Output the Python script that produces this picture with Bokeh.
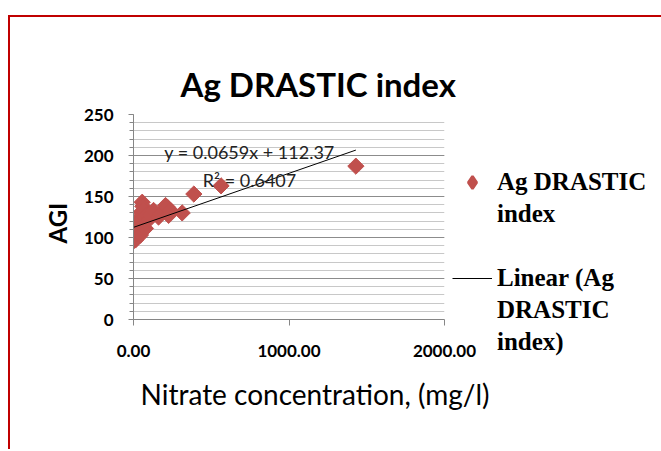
import numpy as np
from bokeh.plotting import figure
from bokeh.models import (Range1d, FixedTicker, NumeralTickFormatter, Label, Legend,
                          LegendItem, ColumnDataSource, Title)
from bokeh.embed import file_html
from bokeh.resources import INLINE

# ---- data ----
nitrate = [2, 5, 13, 20, 24, 30, 40, 45, 50, 56, 60, 64, 70, 77, 85, 100, 109,
           129, 161, 174, 206, 217, 226, 238, 313, 388, 563, 1430]
agi = [96, 100, 97, 121, 105, 118, 110, 103, 131, 143, 138, 133, 125, 111, 128,
       122, 127, 133, 125, 129, 139, 137, 127, 133, 130, 153, 163, 187]
slope = 0.0659
intercept = 112.37
r_squared = 0.6407
x_ticks = [0, 1000, 2000]
y_ticks = [0, 50, 100, 150, 200, 250]
y_minor_ticks = list(range(0, 251, 10))
title_text = "Ag DRASTIC index"
x_title = "Nitrate concentration, (mg/l)"
y_title = "AGI"
legend_lines = ["Ag DRASTIC", "index", " ", "Linear (Ag", "DRASTIC", "index)"]

FL, FT, FW, FH = 133, 114, 311, 205
RB, BB = 215, 130

p = figure(frame_width=FW, frame_height=FH, output_backend="svg", toolbar_location=None,
           x_range=Range1d(0, 2000), y_range=Range1d(0, 250),
           min_border_left=FL, min_border_right=RB,
           min_border_top=FT, min_border_bottom=BB,
           background_fill_color="white", border_fill_alpha=0)
p.outline_line_color = None
# red chart-area border (top and left edges visible)
p.styles = {
    "background": "linear-gradient(#c00000, #c00000) 8px 15px / calc(100% - 8px) 2px no-repeat, "
                  "linear-gradient(#c00000, #c00000) 8px 15px / 2px calc(100% - 15px) no-repeat, "
                  "white"
}

# title
p.title.text = title_text
p.title.align = "left"
p.title.offset = 47
p.title.standoff = 22
p.title.text_font = "Lato"
p.title.text_font_style = "bold"
p.title.text_font_size = "33px"
p.title.text_color = "black"

# grid
p.xgrid.grid_line_color = None
p.ygrid.ticker = FixedTicker(ticks=y_ticks, minor_ticks=y_minor_ticks)
p.ygrid.grid_line_color = "#8c8c8c"
p.ygrid.minor_grid_line_color = "#c8c8c8"

# axes
p.xaxis.ticker = FixedTicker(ticks=x_ticks, minor_ticks=[])
p.yaxis.ticker = FixedTicker(ticks=y_ticks, minor_ticks=y_minor_ticks)
p.xaxis.formatter = NumeralTickFormatter(format="0.00")
for ax in (p.xaxis, p.yaxis):
    ax.axis_line_color = "#868686"
    ax.major_tick_line_color = "#868686"
    ax.minor_tick_line_color = "#868686"
    ax.major_tick_in = 0
    ax.minor_tick_in = 0
    ax.major_label_text_font = "Lato"
    ax.major_label_text_font_style = "bold"
    ax.major_label_text_font_size = "17px"
    ax.major_label_text_color = "black"
p.xaxis.major_tick_out = 6
p.xaxis.minor_tick_out = 0
p.yaxis.major_tick_out = 5
p.yaxis.minor_tick_out = 4
p.yaxis.major_label_standoff = 15
p.xaxis.major_label_standoff = 19

# axis titles as side-panel titles (they sit off-centre in the reference)
p.add_layout(Title(text=x_title, align="left", offset=7, standoff=30,
                   text_font="Lato", text_font_style="normal", text_font_size="28px",
                   text_color="black"), "below")
p.add_layout(Title(text=y_title, align="left", offset=76, standoff=18,
                   text_font="Lato", text_font_style="bold", text_font_size="24px",
                   text_color="black"), "left")

# data
src = ColumnDataSource(dict(x=nitrate, y=agi))
r_pts = p.scatter("x", "y", source=src, marker="square", angle=np.pi / 4, size=11.5,
                  fill_color="#c0504d", line_color="#c0504d")
x_fit = [min(nitrate), max(nitrate)]
y_fit = [slope * v + intercept for v in x_fit]
r_line = p.line(x_fit, y_fit, line_color="black", line_width=1)
# legend swatch for the points (legend glyphs are drawn unrotated): same data, hidden
r_key = p.scatter("x", "y", source=src, marker="diamond", size=12, fill_color="#c0504d",
                  line_color="#c0504d", line_width=2.5, visible=False)

# trendline equation
p.add_layout(Label(x=116, y=168, x_units="screen", y_units="screen",
                   text=f"y = {slope}x + {intercept}", text_align="center",
                   text_baseline="middle", text_font="Lato", text_font_size="18px",
                   text_color="#222222"))
p.add_layout(Label(x=116, y=140, x_units="screen", y_units="screen",
                   text=f"R² = {r_squared}", text_align="center",
                   text_baseline="middle", text_font="Lato", text_font_size="18px",
                   text_color="#222222"))

# legend (one item per text line, glyphs on the first line of each entry)
glyph_for = {0: [r_key], 3: [r_line]}
items = [LegendItem(label=t, renderers=glyph_for.get(i, [])) for i, t in enumerate(legend_lines)]
legend = Legend(items=items, location="top_left", orientation="vertical", padding=0, margin=8,
                spacing=0, glyph_width=40, glyph_height=32, label_height=32, label_standoff=5,
                label_text_font="Liberation Serif", label_text_font_style="bold",
                label_text_font_size="25px", label_text_color="black",
                title=" ", title_text_font_size="12px", title_standoff=30,
                border_line_alpha=0, background_fill_alpha=0)
p.add_layout(legend, "right")

open("out.html", "w").write(file_html(p, INLINE))
